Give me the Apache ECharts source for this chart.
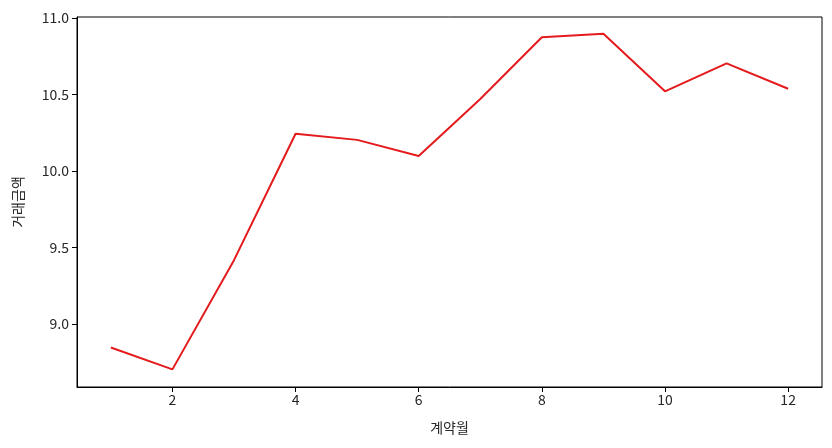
<!DOCTYPE html>
<html>
<head>
<meta charset="utf-8">
<script src="https://cdn.jsdelivr.net/npm/echarts@6/dist/echarts.min.js"></script>
<style>
  html, body { margin: 0; padding: 0; background: #fff; }
  #chart { width: 832px; height: 448px; }
</style>
</head>
<body>
<div id="chart"></div>
<script>
// 계약월별 거래금액
const months = [1, 2, 3, 4, 5, 6, 7, 8, 9, 10, 11, 12];
const amounts = [8.848, 8.705, 9.418, 10.243, 10.203, 10.098, 10.47, 10.873, 10.896, 10.52, 10.702, 10.537];
const xTicks = [2, 4, 6, 8, 10, 12];
const yTicks = [9.0, 9.5, 10.0, 10.5, 11.0];

const font = '"Noto Sans CJK KR", "Noto Sans", sans-serif';
const textColor = '#262626';

const chart = echarts.init(document.getElementById('chart'), null, { renderer: 'canvas' });

chart.setOption({
    animation: false,
    grid: {
        left: 77, top: 17, right: 10, bottom: 61,
        show: true, borderColor: '#000', borderWidth: 1
    },
    xAxis: {
        type: 'value',
        min: 0.45,
        max: 12.55,
        name: '계약월',
        nameLocation: 'middle',
        nameGap: 34,
        nameTextStyle: { color: textColor, fontFamily: font, fontSize: 14 },
        axisLine: { show: true, lineStyle: { color: '#000', width: 1 } },
        axisTick: { show: true, length: 5, customValues: xTicks, lineStyle: { color: '#000' } },
        axisLabel: { customValues: xTicks, color: textColor, fontFamily: font, fontSize: 14, margin: 6 },
        splitLine: { show: false }
    },
    yAxis: {
        type: 'value',
        min: 8.59,
        max: 11.005,
        name: '거래금액',
        nameLocation: 'middle',
        nameGap: 52,
        nameTextStyle: { color: textColor, fontFamily: font, fontSize: 14 },
        axisLine: { show: true, lineStyle: { color: '#000', width: 1 } },
        axisTick: { show: true, length: 5, customValues: yTicks, lineStyle: { color: '#000' } },
        axisLabel: {
            customValues: yTicks,
            color: textColor, fontFamily: font, fontSize: 14, margin: 8,
            formatter: v => Number(v).toFixed(1)
        },
        splitLine: { show: false }
    },
    series: [{
        type: 'line',
        data: months.map((m, i) => [m, amounts[i]]),
        showSymbol: false,
        lineStyle: { color: '#e41a1c', width: 2 },
        itemStyle: { color: '#e41a1c' }
    }]
});
</script>
</body>
</html>
